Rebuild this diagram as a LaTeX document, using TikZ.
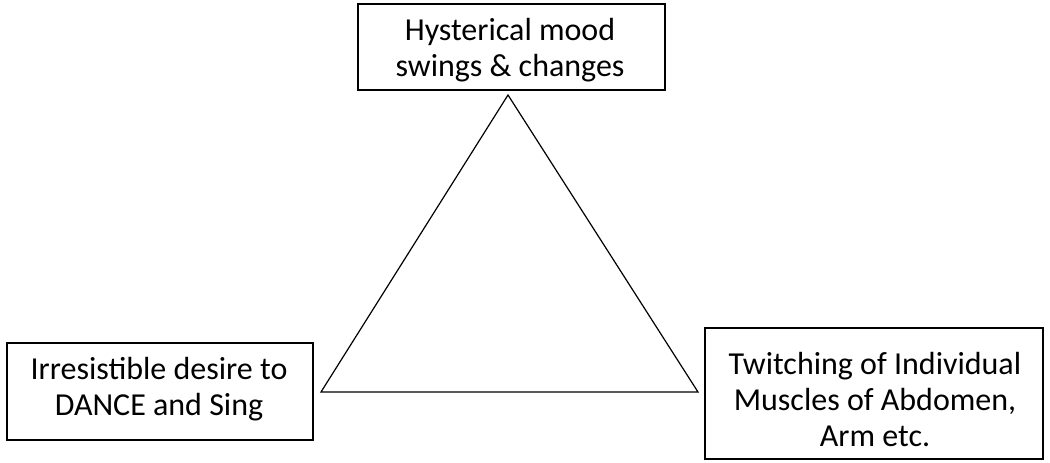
\documentclass[tikz,border=0pt]{standalone}
\usepackage{fontspec}
\setmainfont{Carlito}
\begin{document}
\begin{tikzpicture}[x=0.75pt,y=-0.75pt,
  lbl/.style={align=center,font=\fontsize{24}{27}\selectfont,inner sep=0pt},
  boxline/.style={draw=black,line width=1.5pt},
  triline/.style={draw=black,line width=0.9pt,line join=miter}]
\useasboundingbox (0,0) rectangle (1050,463);
% boxes
\draw[boxline] (358,4) rectangle (665,90);
\draw[boxline] (7,343) rectangle (313,440);
\draw[boxline] (705,328) rectangle (1043,459);
% labels
\node[lbl] (top) at (510,50) {Hysterical mood\\swings \& changes};
\node[lbl] (left) at (159,389) {Irresistible desire to\\DANCE and Sing};
\node[lbl] (right) at (875,400) {Twitching of Individual\\Muscles of Abdomen,\\Arm etc.};
% triangle
\coordinate (A) at (508,95);
\coordinate (B) at (321,392);
\coordinate (C) at (698,392);
\draw[triline] (A) -- (B) -- (C) -- cycle;
\end{tikzpicture}
\end{document}
